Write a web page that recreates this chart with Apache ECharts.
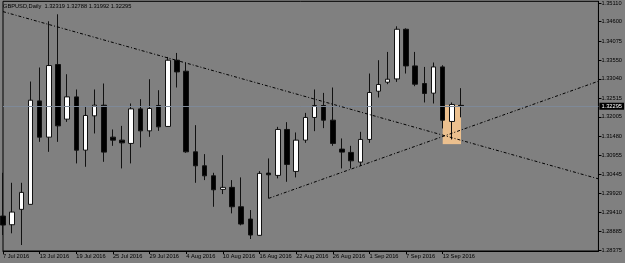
<!DOCTYPE html>
<html>
<head>
<meta charset="utf-8">
<script src="https://cdn.jsdelivr.net/npm/echarts@6/dist/echarts.min.js"></script>
<style>
html,body{margin:0;padding:0;background:#808080;}
#c{width:625px;height:263px;}
</style>
</head>
<body>
<div id="c"></div>
<script>
// ---------- DATA ----------
const symbol = 'GBPUSD,Daily';
const dates = ['7 Jul 2016','8 Jul 2016','11 Jul 2016','12 Jul 2016','13 Jul 2016','14 Jul 2016','15 Jul 2016',
  '18 Jul 2016','19 Jul 2016','20 Jul 2016','21 Jul 2016','22 Jul 2016','25 Jul 2016','26 Jul 2016','27 Jul 2016',
  '28 Jul 2016','29 Jul 2016','1 Aug 2016','2 Aug 2016','3 Aug 2016','4 Aug 2016','5 Aug 2016','8 Aug 2016',
  '9 Aug 2016','10 Aug 2016','11 Aug 2016','12 Aug 2016','15 Aug 2016','16 Aug 2016','17 Aug 2016','18 Aug 2016',
  '19 Aug 2016','22 Aug 2016','23 Aug 2016','24 Aug 2016','25 Aug 2016','26 Aug 2016','29 Aug 2016','30 Aug 2016',
  '31 Aug 2016','1 Sep 2016','2 Sep 2016','5 Sep 2016','6 Sep 2016','7 Sep 2016','8 Sep 2016','9 Sep 2016',
  '12 Sep 2016','13 Sep 2016','14 Sep 2016','15 Sep 2016'];
const opens = [1.29301,1.29064,1.29483,1.29620,1.32441,1.31452,1.33432,1.31943,1.32550,1.31098,1.32033,1.32324,
  1.31452,1.31371,1.31281,1.32223,1.31624,1.32316,1.31744,1.33550,1.33250,1.31052,1.30671,1.30398,1.30028,1.30083,
  1.29554,1.29219,1.28775,1.30472,1.30409,1.31662,1.30518,1.31371,1.31989,1.32316,1.31915,1.31126,1.31036,1.30772,
  1.31390,1.32705,1.32950,1.33040,1.34394,1.33394,1.32915,1.32651,1.33367,1.31880,1.32319];
const highs = [1.30480,1.30208,1.30208,1.32969,1.33351,1.34612,1.34802,1.33168,1.32752,1.32278,1.32752,1.32915,
  1.31662,1.31760,1.32370,1.32487,1.33032,1.32732,1.33639,1.33748,1.33487,1.31779,1.30990,1.30480,1.30962,1.30281,
  1.30355,1.29464,1.30526,1.30872,1.31733,1.31861,1.31580,1.32114,1.32752,1.32659,1.32806,1.31417,1.31216,1.31597,
  1.33187,1.33550,1.33776,1.34475,1.34420,1.33776,1.33367,1.33487,1.33413,1.32398,1.32788];
const lows = [1.28784,1.28830,1.28511,1.29610,1.31324,1.31052,1.31324,1.31869,1.30736,1.30644,1.31553,1.30780,
  1.31216,1.30600,1.30736,1.31172,1.31461,1.31624,1.31730,1.32806,1.31025,1.30208,1.30281,1.29554,1.29900,1.29374,
  1.29048,1.28675,1.28765,1.29783,1.30328,1.30235,1.30355,1.31297,1.31616,1.31698,1.31216,1.30600,1.30600,1.30671,
  1.31297,1.32534,1.32896,1.32959,1.33187,1.32841,1.32398,1.32370,1.31689,1.31390,1.31992];
const closes = [1.29056,1.29410,1.29946,1.32460,1.31452,1.33405,1.31760,1.32550,1.31098,1.32043,1.32324,1.31044,
  1.31371,1.31297,1.32223,1.31624,1.32234,1.31733,1.33550,1.33231,1.31052,1.30671,1.30398,1.30017,1.30083,1.29554,
  1.29083,1.28784,1.30464,1.30426,1.31662,1.30709,1.31371,1.31989,1.32316,1.31915,1.31281,1.31044,1.30807,1.31390,
  1.32670,1.32888,1.33032,1.34394,1.33394,1.32896,1.32643,1.33367,1.31915,1.32343,1.32295];
const yTickLabels = ['1.35110','1.34600','1.34075','1.33550','1.33040','1.32515','1.32005',
  '1.31480','1.30955','1.30445','1.29920','1.29410','1.28885','1.28375'];
const bidPrice = 1.32295;
// trend lines: bar index -> price
const trendDownIdx = [0, 65];
const trendDownPrice = [1.34875, 1.30315];
const trendUpIdx = [29, 65];
const trendUpPrice = [1.29783, 1.32978];
// highlighted rectangle
const boxIdx = [48, 50];
const boxPrice = [1.32324, 1.31262];

// ---------- LAYOUT ----------
const emptySlots = 15;
const yMin = 1.28348, yMax = 1.35156;
const FONT = '"Liberation Sans",Arial,sans-serif';
const FS = 5.7;

const categories = dates.concat(new Array(emptySlots).fill(''));
const candleData = opens.map((o, i) => [o, closes[i], lows[i], highs[i]]);
const last = opens.length - 1;
const titleText = symbol + '  ' + [opens[last], highs[last], lows[last], closes[last]].map(v => v.toFixed(5)).join(' ');
const labelIdxOk = (idx) => idx % 4 === 0 && categories[idx] !== '';

const chart = echarts.init(document.getElementById('c'), null, {renderer: 'canvas'});
chart.setOption({
  backgroundColor: '#808080',
  animation: false,
  title: {
    text: titleText, left: 3, top: 3, padding: 0,
    textStyle: {fontSize: FS, fontWeight: 'normal', color: '#000', fontFamily: FONT}
  },
  grid: {left: 2, right: 25, top: 1, bottom: 12, show: true, borderColor: '#000', borderWidth: 1, backgroundColor: 'transparent'},
  xAxis: {
    type: 'category', data: categories, boundaryGap: false,
    axisLine: {lineStyle: {color: '#000', width: 1}},
    axisTick: {show: true, length: 3, interval: (idx) => labelIdxOk(idx), lineStyle: {color: '#000'}},
    axisLabel: {
      interval: (idx) => labelIdxOk(idx), align: 'left', margin: 2, color: '#000',
      fontSize: FS, fontFamily: FONT
    },
    splitLine: {show: false}
  },
  yAxis: {
    type: 'value', position: 'right', min: yMin, max: yMax, scale: true,
    axisLine: {show: true, lineStyle: {color: '#000', width: 1}},
    axisTick: {show: true, length: 3, inside: false, lineStyle: {color: '#000'},
      customValues: yTickLabels.map(Number)},
    axisLabel: {color: '#000', fontSize: FS, fontFamily: FONT, margin: 3,
      customValues: yTickLabels.map(Number),
      formatter: (v) => v.toFixed(5)},
    splitLine: {show: false}
  },
  series: [
    {
      type: 'candlestick', data: candleData, barWidth: 5, clip: false,
      itemStyle: {color: '#ffffff', color0: '#000000', borderColor: '#111111', borderColor0: '#111111', borderWidth: 1},
      markArea: {
        silent: true,
        itemStyle: {color: '#ecc08e'},
        data: [[{xAxis: boxIdx[0], yAxis: boxPrice[0]}, {xAxis: boxIdx[1], yAxis: boxPrice[1]}]]
      },
      markLine: {
        silent: true, symbol: 'none', animation: false, precision: 5,
        lineStyle: {color: '#7e8998', width: 1, type: 'solid'},
        label: {position: 'end', distance: 1, color: '#fff', backgroundColor: '#000',
          padding: [1, 2, 0, 2], fontSize: FS, fontFamily: FONT, formatter: () => bidPrice.toFixed(5)},
        data: [{yAxis: bidPrice}]
      }
    },
    {
      type: 'line', data: trendDownIdx.map((x, i) => [x, trendDownPrice[i]]), symbol: 'none', z: 5,
      lineStyle: {color: '#000', width: 1, type: [3, 2, 1, 2]}
    },
    {
      type: 'line', data: trendUpIdx.map((x, i) => [x, trendUpPrice[i]]), symbol: 'none', z: 5,
      lineStyle: {color: '#000', width: 1, type: [3, 2, 1, 2]}
    }
  ]
});
</script>
</body>
</html>
